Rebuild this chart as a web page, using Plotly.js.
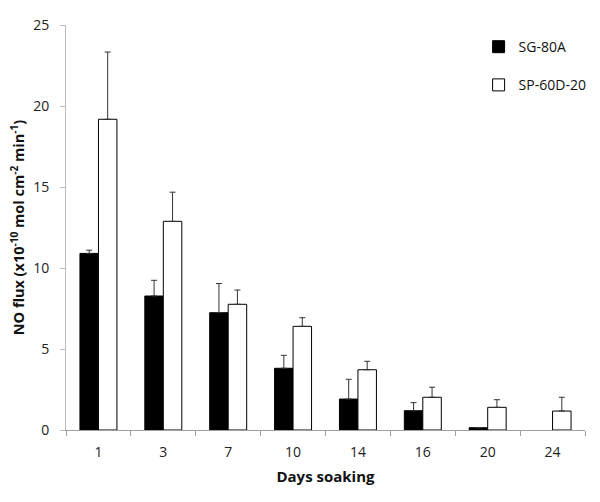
<!DOCTYPE html>
<html>
<head>
<meta charset="utf-8">
<script src="https://cdn.plot.ly/plotly-3.0.1.min.js"></script>
<style>html,body{margin:0;padding:0;background:#fff;}#chart{width:600px;height:502px;}</style>
</head>
<body>
<div id="chart"></div>
<script>
const days = ['1', '3', '7', '10', '14', '16', '20', '24'];
const sg80a = [10.9, 8.27, 7.24, 3.81, 1.91, 1.19, 0.14, null];
const sg80aErr = [0.2, 0.97, 1.8, 0.8, 1.22, 0.5, 0, 0];
const sp60d20 = [19.18, 12.88, 7.76, 6.4, 3.72, 2.02, 1.4, 1.17];
const sp60d20Err = [4.15, 1.8, 0.88, 0.53, 0.52, 0.62, 0.47, 0.85];
const zeros = days.map(() => 0);

const font = '"Open Sans", "Liberation Sans", sans-serif';

const traces = [
  {
    type: 'bar', name: 'SG-80A', x: days, y: sg80a, legendgroup: 'a',
    marker: {color: '#000', line: {color: '#000', width: 1}},
    error_y: {type: 'data', symmetric: false, array: sg80aErr, arrayminus: zeros, color: '#333', thickness: 1, width: 3}
  },
  {
    type: 'bar', name: 'SP-60D-20', x: days, y: sp60d20, legendgroup: 'b',
    marker: {color: '#fff', line: {color: '#000', width: 1}},
    error_y: {type: 'data', symmetric: false, array: sp60d20Err, arrayminus: zeros, color: '#333', thickness: 1, width: 3}
  }
];

const layout = {
  width: 600, height: 502,
  margin: {l: 66, r: 8, t: 25, b: 72},
  paper_bgcolor: '#fff', plot_bgcolor: '#fff',
  font: {family: font, size: 14, color: '#222'},
  barmode: 'group', bargap: 0.43, bargroupgap: 0,
  showlegend: true,
  legend: {
    x: 0.795, y: 0.985, xanchor: 'left', yanchor: 'top',
    traceorder: 'grouped', tracegroupgap: 17,
    font: {family: font, size: 14, color: '#111'},
    itemwidth: 30, bgcolor: 'rgba(0,0,0,0)'
  },
  xaxis: {
    type: 'category',
    showline: true, linecolor: '#a0a0a0', linewidth: 1,
    ticks: 'outside', tickson: 'boundaries', ticklen: 5, tickcolor: '#a0a0a0',
    ticklabelstandoff: 9,
    showgrid: false, zeroline: false,
    title: {text: '<b>Days soaking</b>', font: {family: font, size: 15, color: '#111'}, standoff: 11}
  },
  yaxis: {
    range: [0, 25], tickvals: [0, 5, 10, 15, 20, 25],
    showline: true, linecolor: '#bdbdbd', linewidth: 1,
    ticks: 'outside', ticklen: 5, tickcolor: '#bdbdbd',
    ticklabelstandoff: 8,
    showgrid: false, zeroline: false,
    title: {text: '<b>NO flux (x10<sup>-10</sup> mol cm<sup>-2</sup> min<sup>-1</sup>)</b>', font: {family: font, size: 14.5, color: '#111'}, standoff: 5}
  }
};

Plotly.newPlot('chart', traces, layout, {displayModeBar: false, staticPlot: true});
</script>
</body>
</html>
